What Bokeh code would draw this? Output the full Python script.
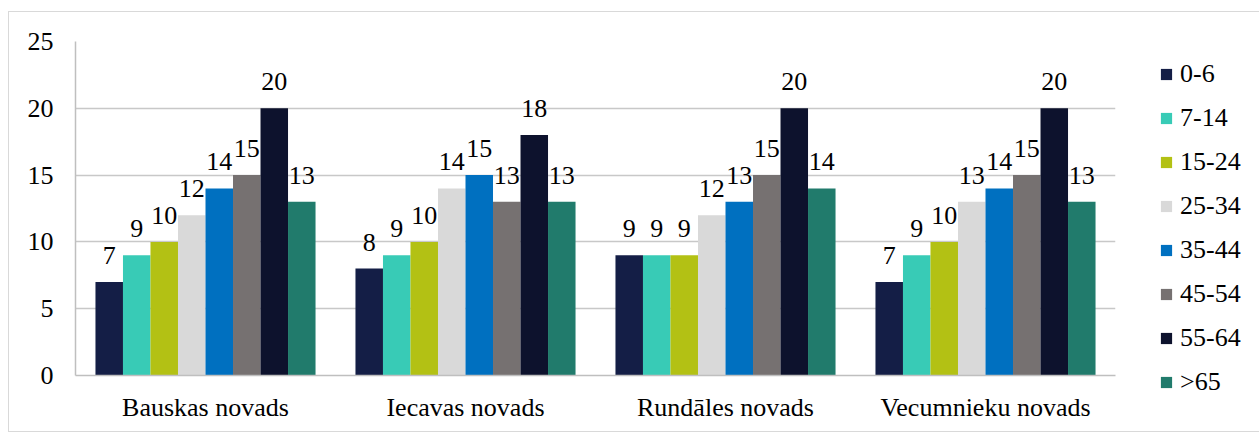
from bokeh.plotting import figure
from bokeh.models import ColumnDataSource, FactorRange, Legend, LegendItem, LabelSet, Range1d, FixedTicker
from bokeh.transform import dodge
from bokeh.embed import file_html
from bokeh.resources import INLINE

categories = ["Bauskas novads", "Iecavas novads", "Rundāles novads", "Vecumnieku novads"]
series = ["0-6", "7-14", "15-24", "25-34", "35-44", "45-54", "55-64", ">65"]
v_0_6 = [7, 8, 9, 7]
v_7_14 = [9, 9, 9, 9]
v_15_24 = [10, 10, 9, 10]
v_25_34 = [12, 14, 12, 13]
v_35_44 = [14, 15, 13, 14]
v_45_54 = [15, 13, 15, 15]
v_55_64 = [20, 18, 20, 20]
v_65 = [13, 13, 14, 13]
values = [v_0_6, v_7_14, v_15_24, v_25_34, v_35_44, v_45_54, v_55_64, v_65]
colors = ["#141E46", "#38CBB6", "#B3C114", "#D9D9D9", "#0070C0", "#767171", "#0D122D", "#217B6C"]

FONT = "Times New Roman"
FS = "26px"

p = figure(x_range=FactorRange(*categories, range_padding=0), y_range=Range1d(0, 25),
           frame_width=1040, frame_height=334, output_backend="svg", toolbar_location=None,
           min_border_left=66, min_border_top=29, min_border_bottom=56, min_border_right=134)
p.styles = {"border": "1px solid #D9D9D9", "margin-left": "8px", "margin-top": "11px"}
p.outline_line_color = None
p.background_fill_color = "white"

src = ColumnDataSource(dict(cat=categories, **{f"s{i}": values[i] for i in range(8)},
                            **{f"t{i}": [str(v) for v in values[i]] for i in range(8)}))

bw = 0.1058
items = []
for i, name in enumerate(series):
    off = (i - 3.5) * bw
    r = p.vbar(x=dodge("cat", off, range=p.x_range), top=f"s{i}", width=bw, source=src,
               fill_color=colors[i], line_color=None)
    items.append(LegendItem(label=name, renderers=[r]))
    lab = LabelSet(x=dodge("cat", off, range=p.x_range), y=f"s{i}", text=f"t{i}", source=src,
                   text_align="center", text_baseline="alphabetic", y_offset=18,
                   text_font=FONT, text_font_size=FS, text_color="#000000")
    p.add_layout(lab)

p.yaxis.ticker = FixedTicker(ticks=[0, 5, 10, 15, 20, 25])
p.ygrid.grid_line_color = "#C8C8C8"
p.ygrid.grid_line_width = 1.5
p.xgrid.grid_line_color = None
for ax in (p.xaxis, p.yaxis):
    ax.major_tick_line_color = None
    ax.minor_tick_line_color = None
    ax.axis_line_color = "#BFBFBF"
    ax.axis_line_width = 1.5
    ax.major_label_text_font = FONT
    ax.major_label_text_font_size = FS
    ax.major_label_text_color = "#000000"
p.yaxis.major_label_standoff = 16
p.xaxis.major_label_standoff = 11

legend = Legend(items=items, location=(44, -22), orientation="vertical",
                label_text_font=FONT, label_text_font_size=FS, label_text_color="#000000",
                glyph_width=14, glyph_height=14, label_standoff=7, spacing=14,
                padding=0, margin=0, border_line_color=None, background_fill_alpha=0)
p.add_layout(legend, "right")

open("out.html", "w").write(file_html(p, INLINE))
